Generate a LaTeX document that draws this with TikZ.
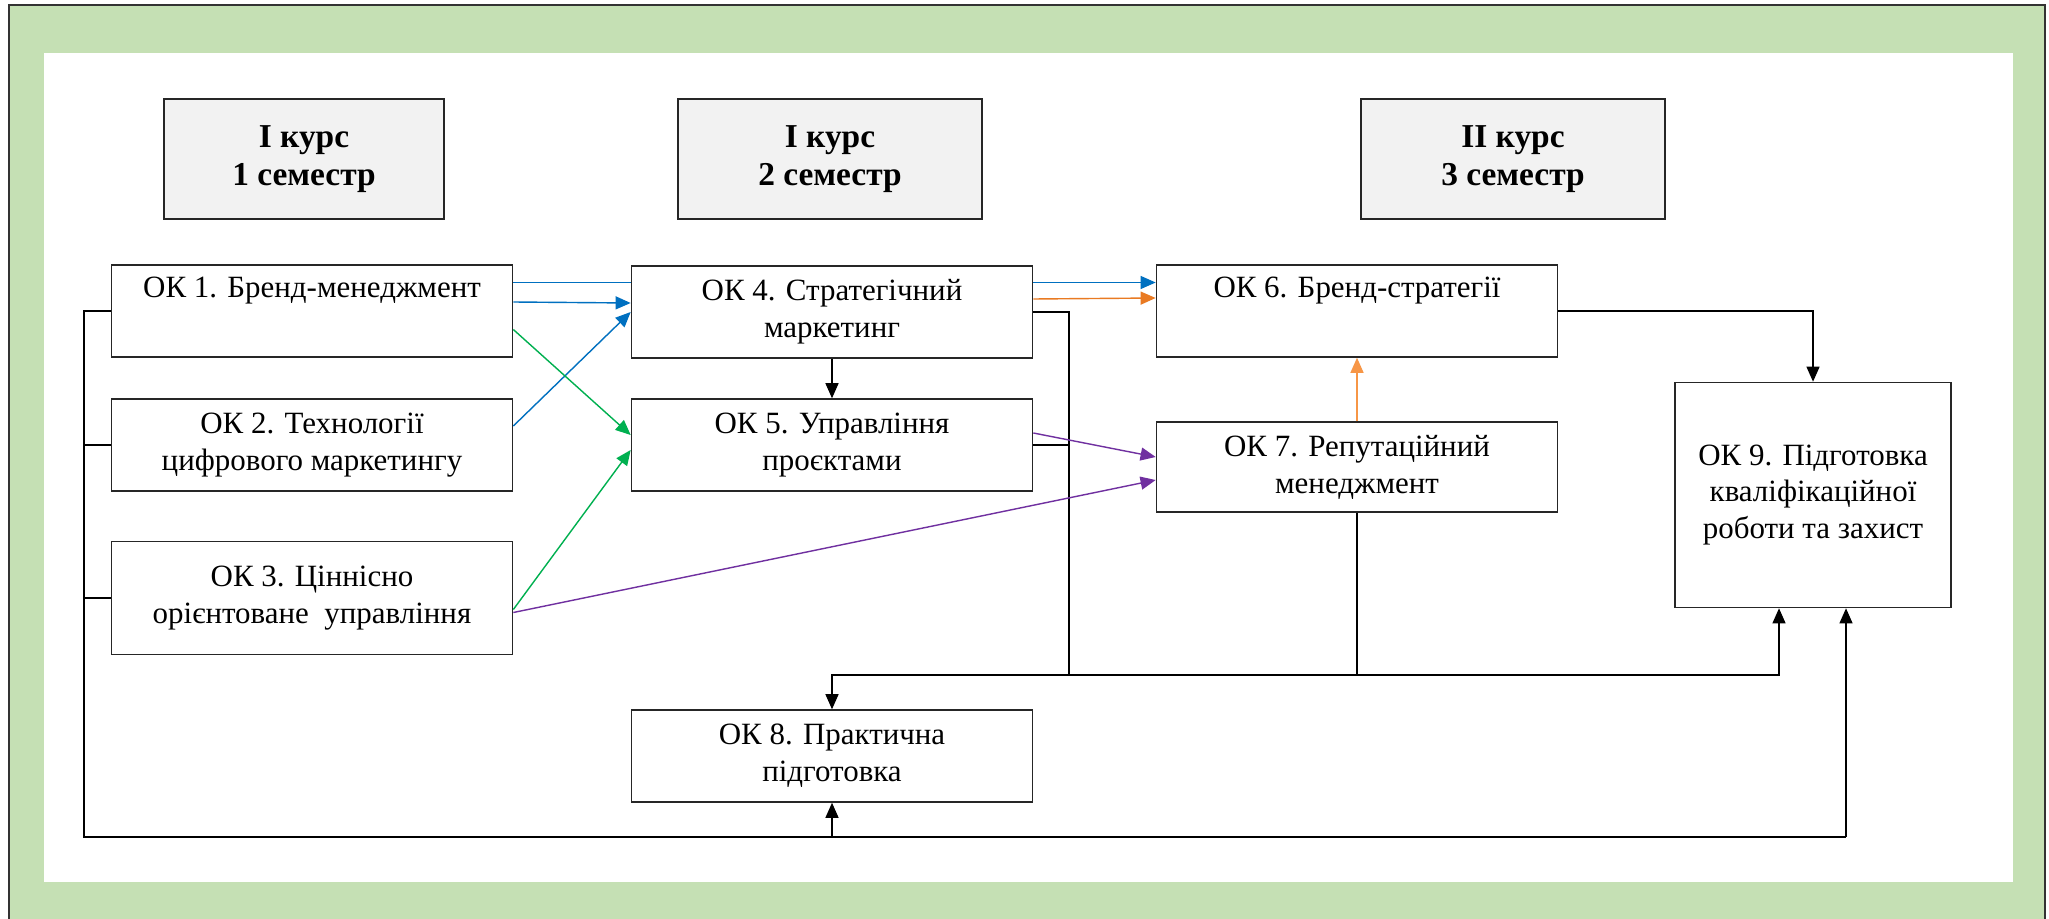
\documentclass[tikz,border=0pt]{standalone}
\usepackage{fontspec}
\setmainfont{Liberation Serif}
\usetikzlibrary{arrows.meta, positioning, calc}
\pgfdeclarelayer{back}
\pgfsetlayers{back,main}
\definecolor{frameGreen}{HTML}{C5E0B4}
\definecolor{hdrGray}{HTML}{F2F2F2}
\definecolor{lnBlue}{HTML}{0070C0}
\definecolor{lnGreen}{HTML}{00B050}
\definecolor{lnOrange}{HTML}{E97A22}
\definecolor{lnPeach}{HTML}{F79646}
\definecolor{lnPurple}{HTML}{7030A0}

\begin{document}
\begin{tikzpicture}[
  x=0.01cm, y=-0.01cm, >={Triangle[length=4.3pt, width=3.7pt]}, line width=0.55pt,
  sem/.style={draw=black!85, fill=hdrGray, minimum width=3.04cm, minimum height=1.2cm,
    align=center, inner sep=0pt, font=\fontsize{9.5}{11}\selectfont\bfseries},
  ok/.style={draw=black!85, fill=white, minimum width=4.01cm, minimum height=0.92cm,
    align=center, inner sep=0pt, font=\fontsize{8.8}{10.5}\selectfont}
]
  \useasboundingbox (0,0) rectangle (2049,918);

  % green frame behind everything
  \begin{pgfonlayer}{back}
    \fill[frameGreen] (9,5) rectangle (2045,930);
    \draw[black!80, line width=0.8pt] (9,930) -- (9,5) -- (2045,5) -- (2045,930);
    \fill[white] (44,53) rectangle (2013,882);
  \end{pgfonlayer}

  \node[sem, minimum width=2.8cm] (s1) at (304,159) {I курс\\1 семестр};
  \node[sem] (s2) at (830,159) {I курс\\2 семестр};
  \node[sem] (s3) at (1513,159) {II курс\\3 семестр};

  \node[ok] (ok1) at (312,311) {ОК 1. Бренд-менеджмент\\ \strut};
  \node[ok] (ok2) at (312,445) {ОК 2. Технології\\цифрового маркетингу};
  \node[ok, minimum height=1.13cm] (ok3) at (312,598) {ОК 3. Ціннісно\\орієнтоване\ \ управління};
  \node[ok] (ok4) at (832,312) {ОК 4. Стратегічний\\маркетинг};
  \node[ok] (ok5) at (832,445) {ОК 5. Управління\\проєктами};
  \node[ok] (ok6) at (1357,311) {ОК 6. Бренд-стратегії\\ \strut};
  \node[ok, minimum height=0.9cm] (ok7) at (1357,467) {ОК 7. Репутаційний\\менеджмент};
  \node[ok] (ok8) at (832,756) {ОК 8. Практична\\підготовка};
  \node[ok, minimum width=2.76cm, minimum height=2.25cm] (ok9) at (1813,495)
    {ОК 9. Підготовка\\кваліфікаційної\\роботи та захист};

  \coordinate (lb) at (84,837);
  \coordinate (br) at (1846,837);
  \coordinate (rb) at (1069,675);
  \coordinate (mb) at (1779,675);

  \draw (ok1.west) -| (lb) -- (br);
  \draw (ok2.west) -- (ok2.west -| lb);
  \draw (ok3.west) -- (ok3.west -| lb);
  \draw[->] (br) -- (br |- ok9.south);
  \draw[->] (ok8.south |- lb) -- (ok8.south);

  \draw (ok4.east) -| (rb);
  \draw (ok5.east) -- (ok5.east -| rb);
  \draw (ok7.south) -- (ok7.south |- rb);
  \draw[->] (rb) -- (ok8.north |- rb) -- (ok8.north);
  \draw[->] (rb) -- (mb) -- (mb |- ok9.south);
  \draw[->] (ok4) -- (ok5);
  \draw[->] (ok6.east) -| (ok9.north);

  \draw[->, lnBlue] ([yshift=0.9mm]ok1.east) -- ([yshift=0.9mm]ok4.west);
  \draw[->, lnBlue] ([yshift=1.9mm]ok2.east) -- (ok4.west);
  \draw[->, lnGreen] ([yshift=-1.85mm]ok1.east) -- ([yshift=1mm]ok5.west);
  \draw[->, lnGreen] ([yshift=-1.15mm]ok3.east) -- ([yshift=-0.5mm]ok5.west);
  \draw[->, lnOrange] ([yshift=1.3mm]ok4.east) -- ([yshift=1.3mm]ok6.west);
  \draw[->, lnPeach] (ok7) -- (ok6);
  \draw[->, lnPurple] ([yshift=1.2mm]ok5.east) -- ([yshift=1mm]ok7.west);
  \draw[->, lnPurple] ([yshift=-1.45mm]ok3.east) -- ([yshift=-1.3mm]ok7.west);
  \begin{pgfonlayer}{back}
    \draw[->, lnBlue] ([yshift=2.85mm]ok1.east) -- ([yshift=2.85mm]ok6.west);
  \end{pgfonlayer}
\end{tikzpicture}
\end{document}
